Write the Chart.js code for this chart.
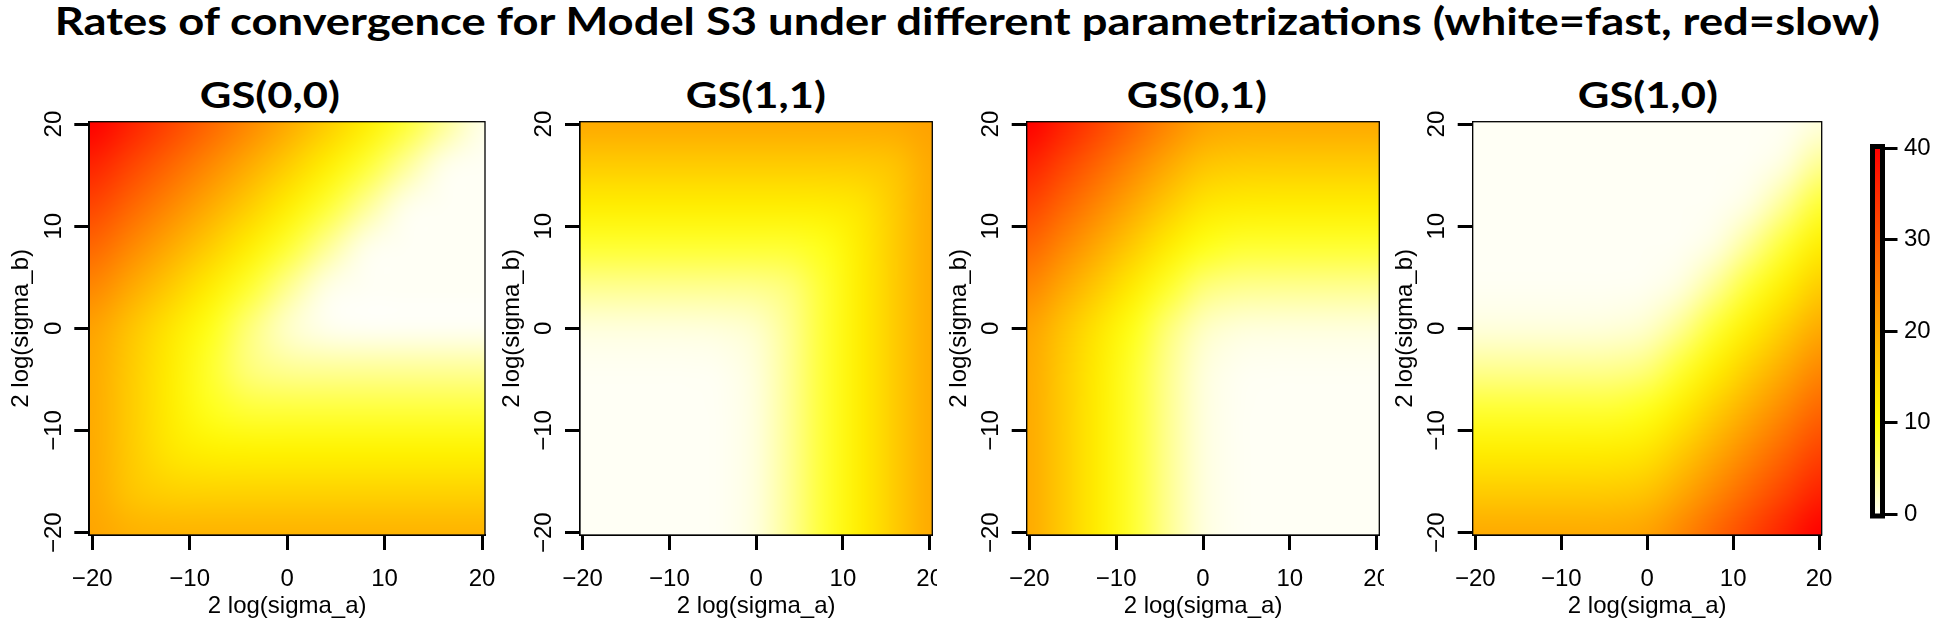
<!DOCTYPE html>
<html>
<head>
<meta charset="utf-8">
<title>Rates of convergence for Model S3</title>
<script src="https://cdn.jsdelivr.net/npm/chart.js@4.4.1/dist/chart.umd.min.js"></script>
<style>
  html, body { margin: 0; padding: 0; background: #ffffff; }
  body { position: relative; width: 1934px; height: 622px; overflow: hidden; }
  .box { position: absolute; }
  .ttl { position: absolute; white-space: nowrap; color: #000; font-family: Lato, 'Open Sans', sans-serif; font-weight: 700; transform-origin: 50% 50%; }
</style>
</head>
<body>
<div id="mainTitle" class="ttl"></div>
<div id="t0" class="ttl"></div>
<div id="t1" class="ttl"></div>
<div id="t2" class="ttl"></div>
<div id="t3" class="ttl"></div>
<div class="box" id="p0"><canvas id="c0"></canvas></div>
<div class="box" id="p1"><canvas id="c1"></canvas></div>
<div class="box" id="p2"><canvas id="c2"></canvas></div>
<div class="box" id="p3"><canvas id="c3"></canvas></div>
<div class="box" id="p4"><canvas id="c4"></canvas></div>
<script>
// grid of the surfaces: 2 log(sigma_a) across, 2 log(sigma_b) down (top row first)
const xVals = [-20, -16, -12, -8, -4, 0, 4, 8, 12, 16, 20];
const yVals = [20, 16, 12, 8, 4, 0, -4, -8, -12, -16, -20];
const axisTicks = [-20, -10, 0, 10, 20];
const legendTicks = [0, 10, 20, 30, 40];
const panelTitles = ['GS(0,0)', 'GS(1,1)', 'GS(0,1)', 'GS(1,0)'];
const mainTitle = 'Rates of convergence for Model S3 under different parametrizations (white=fast, red=slow)';
const xLabel = '2 log(sigma_a)';
const yLabel = '2 log(sigma_b)';

const gs00 = [
  [40, 36, 32, 28, 24, 20, 16, 12, 8, 4, 0.5],
  [36, 32, 28, 24, 20, 16, 12, 8, 4, 0.5, 0],
  [32, 28, 24, 20, 16, 12, 8, 4, 0.5, 0, 0],
  [28, 24, 20, 16, 12, 8, 4, 0.5, 0, 0, 0],
  [24.1, 20.1, 16.1, 12.1, 8.1, 4.1, 0.6, 0, 0, 0, 0],
  [21, 17, 13, 9.1, 5.1, 1.7, 0.3, 0, 0, 0, 0],
  [20.1, 16.1, 12.1, 8.2, 5, 3.9, 3.8, 3.8, 3.8, 3.8, 3.8],
  [20, 16, 12.1, 8.9, 7.7, 7.6, 7.6, 7.6, 7.6, 7.6, 7.6],
  [20, 16.1, 12.8, 11.6, 11.4, 11.4, 11.4, 11.4, 11.4, 11.4, 11.4],
  [20.1, 16.7, 15.4, 15.2, 15.2, 15.2, 15.2, 15.2, 15.2, 15.2, 15.2],
  [20.6, 19.2, 19, 19, 19, 19, 19, 19, 19, 19, 19]
];
const gs11 = [
  [20, 20, 20, 20, 20, 20, 20, 20, 20, 20.1, 21],
  [16, 16, 16, 16, 16, 16, 16, 16, 16.1, 17, 20.1],
  [12, 12, 12, 12, 12, 12, 12, 12.1, 13, 16.1, 20],
  [8, 8, 8, 8, 8, 8, 8.1, 9, 12.1, 16, 20],
  [4.1, 4.1, 4.1, 4.1, 4.1, 4.2, 5.1, 8.1, 12, 16, 20],
  [1, 1, 1, 1, 1.1, 1.7, 4.2, 8, 12, 16, 20],
  [0.1, 0.1, 0.1, 0.1, 0.2, 1.1, 4.1, 8, 12, 16, 20],
  [0, 0, 0, 0, 0.1, 1, 4.1, 8, 12, 16, 20],
  [0, 0, 0, 0, 0.1, 1, 4.1, 8, 12, 16, 20],
  [0, 0, 0, 0, 0.1, 1, 4.1, 8, 12, 16, 20],
  [0, 0, 0, 0, 0.1, 1, 4.1, 8, 12, 16, 20]
];
const gs01 = [
  [40, 36, 32, 28, 24.1, 21, 20.1, 20, 20, 20, 20],
  [36, 32, 28, 24, 20.1, 17, 16.1, 16, 16, 16, 16],
  [32, 28, 24, 20, 16.1, 13, 12.1, 12, 12, 12, 12],
  [28, 24, 20, 16, 12.1, 9.1, 8.1, 8, 8, 8, 8],
  [24.1, 20.1, 16.1, 12.1, 8.2, 5.1, 4.2, 4.1, 4.1, 4.1, 4.1],
  [21, 17, 13, 9, 5.1, 2.1, 1.1, 1, 1, 1, 1],
  [20.1, 16.1, 12.1, 8.1, 4.2, 1.1, 0.2, 0.1, 0.1, 0.1, 0.1],
  [20, 16, 12, 8, 4.1, 1, 0.1, 0, 0, 0, 0],
  [20, 16, 12, 8, 4.1, 1, 0.1, 0, 0, 0, 0],
  [20, 16, 12, 8, 4.1, 1, 0.1, 0, 0, 0, 0],
  [20, 16, 12, 8, 4.1, 1, 0.1, 0, 0, 0, 0]
];
const gs10 = [
  [0, 0, 0, 0, 0, 0, 0, 0, 0, 0.1, 1],
  [0, 0, 0, 0, 0, 0, 0, 0, 0.1, 1, 4.1],
  [0, 0, 0, 0, 0, 0, 0, 0.1, 1, 4.1, 8],
  [0, 0, 0, 0, 0, 0, 0.1, 1, 4.1, 8, 12],
  [0.1, 0.1, 0.1, 0.1, 0.1, 0.2, 1.1, 4.1, 8, 12, 16],
  [1, 1, 1, 1, 1.1, 1.7, 4.2, 8, 12, 16, 20],
  [4.1, 4.1, 4.1, 4.1, 4.2, 5.1, 8.1, 12, 16, 20, 24],
  [8, 8, 8, 8, 8.1, 9, 12.1, 16, 20, 24, 28],
  [12, 12, 12, 12, 12.1, 13, 16.1, 20, 24, 28, 32],
  [16, 16, 16, 16, 16.1, 17, 20.1, 24, 28, 32, 36],
  [20, 20, 20, 20, 20.1, 21, 24.1, 28, 32, 36, 40]
];
const surfaces = [gs00, gs11, gs01, gs10];

// where each plot box sits on the page
const boxes = [
  { left: 89.3, right: 485, edge: 497, titleX: 270 },
  { left: 580, right: 932.3, edge: 937, titleX: 755.5 },
  { left: 1026.7, right: 1379.3, edge: 1384, titleX: 1197 },
  { left: 1472.7, right: 1821.7, edge: 1842, titleX: 1648 }
];
const boxTop = 121.7, boxBottom = 535;
const panelTop = 90, panelHeight = 532;
const yAxisW = 82, xAxisH = panelTop + panelHeight - boxBottom;

function heatColor(v) {
  v = Math.max(0, Math.min(40, v));
  if (v <= 10) return [255, 255, Math.round(245 * (1 - v / 10))];
  return [255, Math.round(255 * (40 - v) / 30), 0];
}
function rgb(c) { return 'rgb(' + c.join(',') + ')'; }
function fmt(v) { return v < 0 ? '\u2212' + Math.abs(v) : String(v); }

const axisFont = { family: "'Liberation Sans', Arial, sans-serif", size: 24 };

const heatPlugin = {
  id: 'heat',
  beforeDatasetsDraw(chart) {
    const xs = chart.scales.x, ys = chart.scales.y, area = chart.chartArea;
    const nx = xVals.length, ny = yVals.length;
    const off = document.createElement('canvas');
    off.width = nx; off.height = ny;
    const octx = off.getContext('2d');
    const img = octx.createImageData(nx, ny);
    for (const p of chart.data.datasets[0].data) {
      const j = xVals.indexOf(p.x), i = yVals.indexOf(p.y);
      const c = heatColor(p.v), k = (i * nx + j) * 4;
      img.data[k] = c[0]; img.data[k + 1] = c[1]; img.data[k + 2] = c[2]; img.data[k + 3] = 255;
    }
    octx.putImageData(img, 0, 0);
    const hx = (xVals[1] - xVals[0]) / 2, hy = (yVals[0] - yVals[1]) / 2;
    const x0 = xs.getPixelForValue(xVals[0] - hx), x1 = xs.getPixelForValue(xVals[nx - 1] + hx);
    const y0 = ys.getPixelForValue(yVals[0] + hy), y1 = ys.getPixelForValue(yVals[ny - 1] - hy);
    const ctx = chart.ctx;
    ctx.save();
    ctx.beginPath();
    ctx.rect(area.left, area.top, area.right - area.left, area.bottom - area.top);
    ctx.clip();
    ctx.imageSmoothingEnabled = true;
    ctx.imageSmoothingQuality = 'high';
    ctx.drawImage(off, x0, y0, x1 - x0, y1 - y0);
    ctx.restore();
  },
  afterDraw(chart) {
    const a = chart.chartArea, ctx = chart.ctx;
    ctx.save();
    ctx.strokeStyle = '#000';
    ctx.lineWidth = 1.3;
    ctx.strokeRect(a.left, a.top, a.right - a.left, a.bottom - a.top);
    ctx.restore();
  }
};

function axisOpts(min, max, isX) {
  return {
    type: 'linear', min: min, max: max, z: 1,
    afterBuildTicks: s => { s.ticks = axisTicks.map(v => ({ value: v })); },
    afterFit: s => {
      if (isX) { s.height = xAxisH; s.paddingLeft = 0; s.paddingRight = 0; }
      else { s.width = yAxisW; s.paddingTop = 0; s.paddingBottom = 0; }
    },
    grid: { drawOnChartArea: false, drawTicks: true, tickLength: 15, tickWidth: 3, tickColor: '#000' },
    border: { display: true, color: '#000', width: 2 },
    ticks: isX
      ? { color: '#000', font: axisFont, padding: 14.5, autoSkip: false, minRotation: 0, maxRotation: 0, callback: v => fmt(v) }
      : { color: '#000', font: axisFont, padding: 0, autoSkip: false, minRotation: 90, maxRotation: 90, crossAlign: 'center', callback: v => fmt(v) },
    title: {
      display: true, text: isX ? xLabel : yLabel, color: '#000', font: axisFont,
      padding: isX ? { top: 0, bottom: 1.1 } : { top: 0, bottom: 0 }
    }
  };
}

boxes.forEach((b, k) => {
  const div = document.getElementById('p' + k);
  const canvas = document.getElementById('c' + k);
  const rawLeft = b.left - yAxisW;
  const left = Math.floor(rawLeft);
  const width = Math.round(b.edge - left);
  div.style.left = left + 'px';
  div.style.top = panelTop + 'px';
  canvas.width = width; canvas.height = panelHeight;
  canvas.style.width = width + 'px'; canvas.style.height = panelHeight + 'px';

  const z = surfaces[k];
  const points = [];
  yVals.forEach((y, i) => xVals.forEach((x, j) => points.push({ x: x, y: y, v: z[i][j] })));

  new Chart(canvas, {
    type: 'scatter',
    data: { datasets: [{ label: panelTitles[k], data: points, pointRadius: 0, pointHoverRadius: 0 }] },
    options: {
      responsive: false, animation: false, devicePixelRatio: 1,
      layout: { padding: { left: rawLeft - left, top: boxTop - panelTop, right: left + width - b.right, bottom: 0 } },
      plugins: { legend: { display: false }, tooltip: { enabled: false } },
      events: [],
      scales: { x: axisOpts(-20.3, 20.3, true), y: axisOpts(-20.23, 20.23, false) }
    },
    plugins: [heatPlugin]
  });
});

// colour key on the right
const legendPlugin = {
  id: 'legendBar',
  afterDraw(chart) {
    const ys = chart.scales.y, a = chart.chartArea, ctx = chart.ctx;
    const lo = legendTicks[0], hi = legendTicks[legendTicks.length - 1];
    const yTop = ys.getPixelForValue(hi), yBot = ys.getPixelForValue(lo);
    const g = ctx.createLinearGradient(0, yBot, 0, yTop);
    [0, 10, 40].forEach(v => g.addColorStop((v - lo) / (hi - lo), rgb(heatColor(v))));
    ctx.save();
    ctx.fillStyle = g;
    ctx.fillRect(a.left, yTop - 2, a.right - a.left, yBot - yTop + 4);
    ctx.strokeStyle = '#000';
    ctx.lineWidth = 5;
    ctx.strokeRect(a.left, yTop - 1.8, a.right - a.left, yBot - yTop + 3.8);
    ctx.restore();
  }
};
(function () {
  const div = document.getElementById('p4');
  const canvas = document.getElementById('c4');
  const left = 1860, top = 100, width = 74, height = 440;
  div.style.left = left + 'px'; div.style.top = top + 'px';
  canvas.width = width; canvas.height = height;
  canvas.style.width = width + 'px'; canvas.style.height = height + 'px';
  new Chart(canvas, {
    type: 'scatter',
    data: { datasets: [{ data: [], pointRadius: 0 }] },
    options: {
      responsive: false, animation: false, devicePixelRatio: 1, events: [],
      layout: { padding: { left: 12.5, top: 148.3 - top, right: 0, bottom: top + height - 514 } },
      plugins: { legend: { display: false }, tooltip: { enabled: false } },
      scales: {
        x: { type: 'linear', display: false, min: 0, max: 1 },
        y: {
          type: 'linear', position: 'right', min: 0, max: 40, z: 1,
          afterBuildTicks: s => { s.ticks = legendTicks.map(v => ({ value: v })); },
          afterFit: s => { s.width = width - 22.5; s.paddingTop = 0; s.paddingBottom = 0; },
          grid: { drawOnChartArea: false, drawTicks: true, tickLength: 15, tickWidth: 3, tickColor: '#000' },
          border: { display: false },
          ticks: { color: '#000', font: axisFont, padding: 6.5, autoSkip: false }
        }
      }
    },
    plugins: [legendPlugin]
  });
})();

// titles as page text, sized to the reference cap height and width
function placeText(id, text, capHeight, baseline, centerX, targetWidth) {
  const el = document.getElementById(id);
  const family = "Lato, 'Open Sans', sans-serif";
  const probe = document.createElement('canvas').getContext('2d');
  probe.font = '700 100px ' + family;
  const capRatio = probe.measureText('H').actualBoundingBoxAscent / 100;
  const size = capHeight / capRatio;
  probe.font = '700 ' + size + 'px ' + family;
  const m = probe.measureText(text);
  const asc = m.fontBoundingBoxAscent, desc = m.fontBoundingBoxDescent;
  el.textContent = text;
  el.style.fontSize = size + 'px';
  el.style.lineHeight = (asc + desc) + 'px';
  el.style.top = (baseline - asc) + 'px';
  el.style.left = (centerX - m.width / 2) + 'px';
  el.style.transform = 'scaleX(' + (targetWidth / m.width) + ')';
}
placeText('mainTitle', mainTitle, 27.7, 35, 969, 1828);
panelTitles.forEach((t, k) => placeText('t' + k, t, 26.7, 108.3, boxes[k].titleX, 140));
</script>
</body>
</html>
